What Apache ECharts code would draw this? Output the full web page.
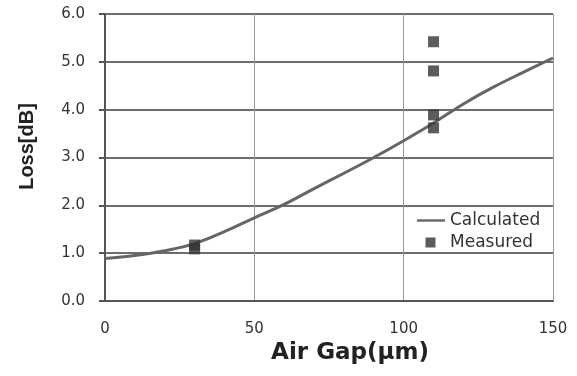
<!DOCTYPE html>
<html>
<head>
<meta charset="utf-8">
<script src="https://cdn.jsdelivr.net/npm/echarts@6/dist/echarts.min.js"></script>
<style>html,body{margin:0;padding:0;background:#fff}#c{width:577px;height:376px}</style>
</head>
<body>
<div id="c"></div>
<script>
const calcX = [0, 10, 20, 30, 40, 50, 60, 70, 80, 90, 100, 110, 120, 130, 140, 150];
const calcY = [0.89, 0.95, 1.05, 1.2, 1.45, 1.74, 2.02, 2.35, 2.67, 3.0, 3.35, 3.72, 4.12, 4.47, 4.78, 5.08];
const measX = [30, 30, 110, 110, 110, 110];
const measY = [1.09, 1.17, 5.42, 4.81, 3.89, 3.62];
const xTicks = [0, 50, 100, 150];
const yTicks = ['0.0', '1.0', '2.0', '3.0', '4.0', '5.0', '6.0'];

const chart = echarts.init(document.getElementById('c'));
chart.setOption({
  animation: false,
  grid: { left: 105, right: 24, top: 14, bottom: 75 },
  legend: {
    orient: 'vertical', left: 412, top: 207, itemGap: 5,
    itemWidth: 28, itemHeight: 10,
    itemStyle: { borderWidth: 0 },
    textStyle: { fontFamily: 'DejaVu Sans', fontSize: 17, color: '#333' },
    data: [
      { name: 'Calculated', icon: 'path://M0,3.8H28V6.2H0Z' },
      { name: 'Measured', icon: 'path://M0,0L0.01,0M8.5,0H18.5V10H8.5ZM28,10L27.99,10' }
    ]
  },
  xAxis: {
    type: 'value', min: 0, max: 150, interval: 50,
    name: 'Air Gap(μm)', nameLocation: 'middle', nameGap: 37,
    nameTextStyle: { fontFamily: 'DejaVu Sans', fontWeight: 'bold', fontSize: 23, color: '#222', padding: [0, 0, 0, 42] },
    axisLine: { lineStyle: { color: '#555', width: 2 } },
    axisTick: { show: false },
    axisLabel: { fontFamily: 'DejaVu Sans', fontSize: 15, color: '#333', margin: 21,
      formatter: v => xTicks.includes(v) ? String(v) : '' },
    splitLine: { show: true, lineStyle: { color: '#999', width: 1 } }
  },
  yAxis: {
    type: 'value', min: 0, max: 6, interval: 1,
    name: 'Loss[dB]', nameLocation: 'middle', nameGap: 68,
    nameTextStyle: { fontFamily: 'Liberation Sans', fontWeight: 'bold', fontSize: 20, color: '#222', padding: [0, 0, 0, 22] },
    axisLine: { show: true, lineStyle: { color: '#555', width: 2 } },
    axisTick: { show: true, length: 6, inside: false, lineStyle: { color: '#555', width: 2 } },
    axisLabel: { fontFamily: 'DejaVu Sans', fontSize: 15, color: '#333', margin: 20,
      formatter: v => yTicks[Math.round(v)] },
    splitLine: { show: true, lineStyle: { color: '#6e6e6e', width: 2 } }
  },
  series: [
    {
      name: 'Calculated', type: 'line', smooth: 0.4, symbol: 'none',
      lineStyle: { color: '#666', width: 3 }, itemStyle: { color: '#666' },
      data: calcX.map((x, i) => [x, calcY[i]]), z: 3
    },
    {
      name: 'Measured', type: 'scatter', symbol: 'rect', symbolSize: 11,
      itemStyle: { color: '#333' },
      data: measX.map((x, i) => [x, measY[i]]), z: 4
    }
  ]
});
</script>
</body>
</html>
